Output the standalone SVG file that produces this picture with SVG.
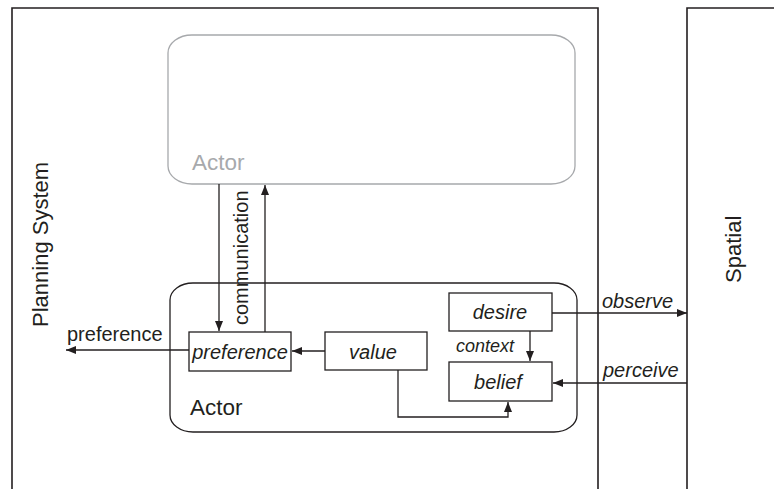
<svg xmlns="http://www.w3.org/2000/svg" width="774" height="489" viewBox="0 0 774 489">
<style>
.frame{fill:none;stroke:#231f20;stroke-width:1.6}
.box{fill:#fff;stroke:#231f20;stroke-width:1.3}
.gbox{fill:#fff;stroke:#a7a9ac;stroke-width:1.3}
.ln{fill:none;stroke:#231f20;stroke-width:1.3}
.t{font-family:"Liberation Sans",Arial,sans-serif;fill:#231f20}
.big{font-size:22px}
.lbl{font-size:20px}
.it{font-style:italic}
</style>
<defs>
<marker id="ah" viewBox="0 0 10 8" refX="10" refY="4" markerWidth="10" markerHeight="8" markerUnits="userSpaceOnUse" orient="auto">
<path d="M0,0 L10,4 L0,8 z" fill="#231f20"/>
</marker>
</defs>
<rect width="774" height="489" fill="#fff"/>
<g id="planning-system">
<path class="frame" d="M12,489 V8 H598 V489"/>
<text class="t big" transform="translate(48,327) rotate(-90)">Planning System</text>
</g>
<g id="spatial">
<path class="frame" d="M687,489 V8 H774"/>
<text class="t big" transform="translate(741,283) rotate(-90)">Spatial</text>
</g>
<g id="actor-remote">
<rect class="gbox" x="168" y="35" width="407" height="149" rx="24" ry="18"/>
<text class="t big" x="192" y="170" style="fill:#a7a9ac;font-size:22.5px">Actor</text>
</g>
<g id="actor">
<rect class="box" x="170" y="283" width="407" height="149" rx="23" ry="17"/>
<text class="t big" x="190" y="415" style="font-size:22.5px">Actor</text>
</g>
<g id="preference">
<rect class="box" x="189" y="332" width="102" height="39"/>
<text class="t lbl it" x="240" y="359" text-anchor="middle">preference</text>
</g>
<g id="value">
<rect class="box" x="325" y="332" width="102" height="38"/>
<text class="t lbl it" x="373" y="359" text-anchor="middle">value</text>
</g>
<g id="desire">
<rect class="box" x="449" y="293" width="103" height="38"/>
<text class="t lbl it" x="500" y="319" text-anchor="middle">desire</text>
</g>
<g id="belief">
<rect class="box" x="449" y="362" width="103" height="39"/>
<text class="t lbl it" x="498" y="389" text-anchor="middle">belief</text>
</g>
<g id="connectors">
<line class="ln" x1="219" y1="184" x2="219" y2="331" marker-end="url(#ah)"/>
<line class="ln" x1="265" y1="332" x2="265" y2="185" marker-end="url(#ah)"/>
<text class="t lbl" transform="translate(248,325) rotate(-90)">communication</text>
<line class="ln" x1="189" y1="350" x2="66" y2="350" marker-end="url(#ah)"/>
<text class="t lbl" x="67" y="341" style="font-size:20px">preference</text>
<line class="ln" x1="325" y1="351" x2="292" y2="351" marker-end="url(#ah)"/>
<line class="ln" x1="530" y1="331" x2="530" y2="361" marker-end="url(#ah)"/>
<text class="t it" x="456" y="352" style="font-size:18px">context</text>
<path class="ln" d="M398,370 V417 H508 V402" marker-end="url(#ah)"/>
<line class="ln" x1="552" y1="313" x2="687" y2="313" marker-end="url(#ah)"/>
<text class="t lbl it" x="602" y="308">observe</text>
<line class="ln" x1="687" y1="383" x2="553" y2="383" marker-end="url(#ah)"/>
<text class="t lbl it" x="603" y="377">perceive</text>
</g>
</svg>
